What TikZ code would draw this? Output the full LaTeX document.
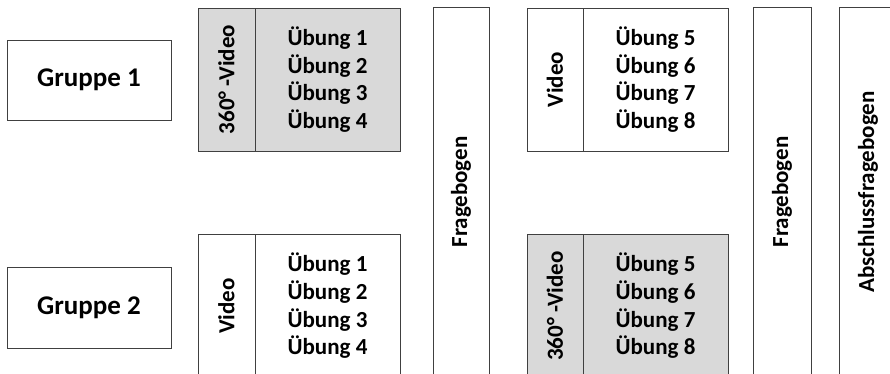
\documentclass[tikz,border=0pt]{standalone}
\usepackage{fontspec}
\setmainfont{Carlito}
\usepackage{tikz}

\tikzset{
  box/.style={draw=black!75, line width=0.9pt, inner sep=0pt, align=center,
    font=\bfseries\fontsize{23}{27.7}\selectfont},
  grau/.style={box, fill=gray!30},
  gruppe/.style={box, font=\bfseries\fontsize{27}{32}\selectfont}
}

\begin{document}
\begin{tikzpicture}[x=1pt, y=-1pt]
\useasboundingbox (0,0) rectangle (890,374);

\node[gruppe, minimum width=164, minimum height=80] (g1) at (89,80) {Gruppe 1};
\node[gruppe, minimum width=164, minimum height=81] (g2) at (89,307.5) {Gruppe 2};

% erster Block
\node[grau, rotate=90, minimum width=143, minimum height=57] (v1) at (226.5,79.5) {360° -Video};
\node[grau, minimum width=145, minimum height=143] (u1) at (327.5,79.5) {Übung 1\\Übung 2\\Übung 3\\Übung 4};
\node[box, rotate=90, minimum width=144, minimum height=57] (v2) at (226.5,306) {Video};
\node[box, minimum width=145, minimum height=144] (u2) at (327.5,306) {Übung 1\\Übung 2\\Übung 3\\Übung 4};

\node[box, rotate=90, minimum width=370, minimum height=56] (f1) at (461,192) {Fragebogen};

% zweiter Block
\node[box, rotate=90, minimum width=143, minimum height=56] (v3) at (555,79.5) {Video};
\node[box, minimum width=145, minimum height=143] (u3) at (655.5,79.5) {Übung 5\\Übung 6\\Übung 7\\Übung 8};
\node[grau, rotate=90, minimum width=144, minimum height=56] (v4) at (555,306) {360° -Video};
\node[grau, minimum width=145, minimum height=144] (u4) at (655.5,306) {Übung 5\\Übung 6\\Übung 7\\Übung 8};

\node[box, rotate=90, minimum width=370, minimum height=58] (f2) at (782,192) {Fragebogen};
\node[box, rotate=90, minimum width=370, minimum height=58] (f3) at (868,192) {Abschlussfragebogen};
\end{tikzpicture}
\end{document}
